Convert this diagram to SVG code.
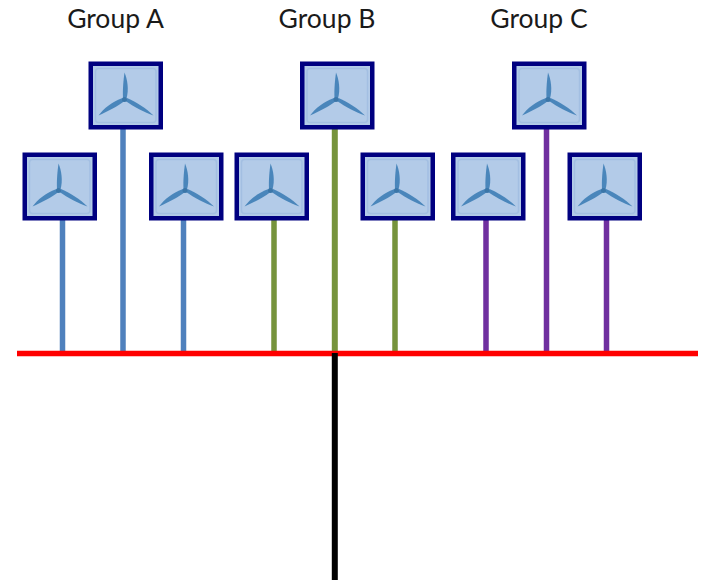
<svg xmlns="http://www.w3.org/2000/svg" width="701" height="582" viewBox="0 0 701 582">
<style>
text{font-family:Lato,"Liberation Sans",sans-serif;font-size:26.500px;fill:#1a1a1a;text-anchor:middle}
.a{stroke:#4f81bd;stroke-width:5.500;fill:none}
.b{stroke:#76933c;stroke-width:5.500;fill:none}
.c{stroke:#7030a0;stroke-width:5.500;fill:none}
</style>
<defs>
<g id="t">
<rect x="2.250" y="2.250" width="70" height="63.500" fill="#b3cbe8" stroke="#000080" stroke-width="4.500"/>
<rect x="7" y="7" width="60.500" height="54" rx="3" fill="none" stroke="#a3bfe2" stroke-width="1.500"/>
<path d="M36 11C39 18 40.500 28 38 37L34.500 37C34 28 35 18 36 11Z" fill="#4a86bb"/>
<path d="M10 54C15 47 24 40 34 36.500L36 39.500C29 45 19 50 10 54Z" fill="#4a86bb"/>
<path d="M65 54C56 51 45 45 37 39.500L38.500 36.500C47 40 58 47 65 54Z" fill="#4a86bb"/>
<circle cx="36" cy="38" r="2.500" fill="#3b76a8"/>
</g>
</defs>
<g id="labels">
<text x="115.500" y="28">Group A</text>
<text x="327" y="28">Group B</text>
<text x="539" y="28">Group C</text>
</g>
<g id="connectors">
<path class="a" d="M62.500 217V353M123 127V353M183.500 217V353"/>
<path class="b" d="M274 217V353M395 217V353"/>
<path d="M334.800 127V353" fill="none" stroke="#76933c" stroke-width="6"/>
<path class="c" d="M486 217V353M546.500 127V353M606.500 217V353"/>
<path d="M17 353.500H698" fill="none" stroke="#ff0000" stroke-width="5.500"/>
<path d="M334.800 353V580" fill="none" stroke="#000000" stroke-width="6"/>
</g>
<g id="a1"><use href="#t" x="22.500" y="152.500"/></g>
<g id="a2"><use href="#t" x="88.500" y="61.500"/></g>
<g id="a3"><use href="#t" x="149" y="152.500"/></g>
<g id="b1"><use href="#t" x="234.500" y="152.500"/></g>
<g id="b2"><use href="#t" x="300" y="61.500"/></g>
<g id="b3"><use href="#t" x="360.500" y="152.500"/></g>
<g id="c1"><use href="#t" x="451" y="152.500"/></g>
<g id="c2"><use href="#t" x="512" y="61.500"/></g>
<g id="c3"><use href="#t" x="567.500" y="152.500"/></g>
</svg>
